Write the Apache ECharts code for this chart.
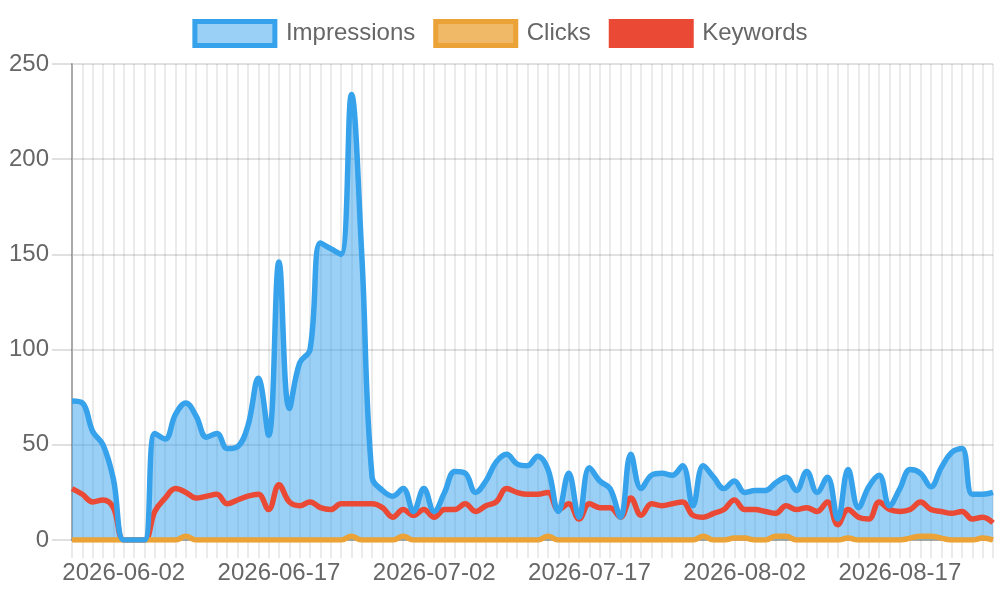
<!DOCTYPE html>
<html>
<head>
<meta charset="utf-8">
<script src="https://cdn.jsdelivr.net/npm/echarts@6/dist/echarts.min.js"></script>
<style>
  html, body { margin: 0; padding: 0; background: #fff; }
  #chart { width: 1000px; height: 600px; }
</style>
</head>
<body>
<div id="chart"></div>
<script>
// dates (one day missing in late July)
const dates = [
  '2026-05-28', '2026-05-29', '2026-05-30', '2026-05-31',
  '2026-06-01', '2026-06-02', '2026-06-03', '2026-06-04', '2026-06-05', '2026-06-06',
  '2026-06-07', '2026-06-08', '2026-06-09', '2026-06-10', '2026-06-11', '2026-06-12',
  '2026-06-13', '2026-06-14', '2026-06-15', '2026-06-16', '2026-06-17', '2026-06-18',
  '2026-06-19', '2026-06-20', '2026-06-21', '2026-06-22', '2026-06-23', '2026-06-24',
  '2026-06-25', '2026-06-26', '2026-06-27', '2026-06-28', '2026-06-29', '2026-06-30',
  '2026-07-01', '2026-07-02', '2026-07-03', '2026-07-04', '2026-07-05', '2026-07-06',
  '2026-07-07', '2026-07-08', '2026-07-09', '2026-07-10', '2026-07-11', '2026-07-12',
  '2026-07-13', '2026-07-14', '2026-07-15', '2026-07-16', '2026-07-17', '2026-07-18',
  '2026-07-19', '2026-07-20', '2026-07-21', '2026-07-22', '2026-07-23', '2026-07-24',
  '2026-07-25', '2026-07-27', '2026-07-28', '2026-07-29', '2026-07-30', '2026-07-31',
  '2026-08-01', '2026-08-02', '2026-08-03', '2026-08-04', '2026-08-05', '2026-08-06',
  '2026-08-07', '2026-08-08', '2026-08-09', '2026-08-10', '2026-08-11', '2026-08-12',
  '2026-08-13', '2026-08-14', '2026-08-15', '2026-08-16', '2026-08-17', '2026-08-18',
  '2026-08-19', '2026-08-20', '2026-08-21', '2026-08-22', '2026-08-23', '2026-08-24',
  '2026-08-25', '2026-08-26'
];

const impressions = [
  73, 72, 57, 50, 32, 0, 0, 0, 56, 53,
  66, 72, 65, 54, 56, 48, 49, 60, 85, 55,
  146, 69, 93, 100, 156, 153, 150, 234, 150, 33,
  26, 23, 27, 15, 27, 15, 25, 36, 35, 25,
  31, 41, 45, 40, 39, 44, 37, 15, 35, 12,
  38, 31, 27, 12, 45, 27, 34, 35, 34, 39,
  18, 39, 33, 27, 31, 25, 26, 26, 30, 33,
  26, 36, 25, 33, 11, 37, 17, 28, 34, 18,
  27, 37, 35, 28, 38, 46, 48, 24, 24, 25
];

const clicks = [
  0, 0, 0, 0, 0, 0, 0, 0, 0, 0,
  0, 2, 0, 0, 0, 0, 0, 0, 0, 0,
  0, 0, 0, 0, 0, 0, 0, 2, 0, 0,
  0, 0, 2, 0, 0, 0, 0, 0, 0, 0,
  0, 0, 0, 0, 0, 0, 2, 0, 0, 0,
  0, 0, 0, 0, 0, 0, 0, 0, 0, 0,
  0, 2, 0, 0, 1, 1, 0, 0, 2, 2,
  0, 0, 0, 0, 0, 1, 0, 0, 0, 0,
  0, 1, 2, 2, 1, 0, 0, 0, 1, 0
];

const keywords = [
  27, 24, 20, 21, 17, 0, 0, 0, 15, 22,
  27, 25, 22, 23, 24, 19, 21, 23, 24, 16,
  29, 20, 18, 20, 17, 16, 19, 19, 19, 19,
  17, 12, 16, 13, 16, 12, 16, 16, 19, 15,
  18, 20, 27, 25, 24, 24, 25, 16, 19, 11,
  19, 17, 17, 12, 22, 13, 19, 18, 19, 20,
  13, 12, 14, 16, 21, 16, 16, 15, 14, 18,
  16, 17, 15, 20, 8, 16, 12, 11, 20, 16,
  15, 16, 20, 16, 15, 14, 15, 11, 12, 9
];

const yTicks = { min: 0, max: 250, step: 50 };

const FONT = 'Liberation Sans';
const BLUE = '#36A2EB';
const BLUE_FILL = 'rgba(54,162,235,0.5)';
const ORANGE = '#EBA236';
const ORANGE_FILL = 'rgba(235,162,54,0.75)';
const RED = '#EA4A35';
const VGRID = 'rgba(0,0,0,0.08)';
const HGRID = 'rgba(0,0,0,0.12)';

const chart = echarts.init(document.getElementById('chart'));

// fills drawn first, lines on top (Impressions line last)
function areaSeries(name, values, fill) {
  return {
    name: name,
    type: 'line',
    data: values,
    smooth: 0.4,
    showSymbol: false,
    z: 1,
    lineStyle: { width: 0, opacity: 0 },
    areaStyle: { color: fill, opacity: 1 },
    silent: true
  };
}

function lineSeries(name, values, color) {
  return {
    name: name,
    type: 'line',
    data: values,
    smooth: 0.4,
    showSymbol: false,
    z: 2,
    lineStyle: { width: 5.5, color: color },
    itemStyle: { color: color }
  };
}

const option = {
  animation: false,
  textStyle: { fontFamily: FONT },
  legend: {
    top: 14,
    left: 'center',
    itemWidth: 80,
    itemHeight: 24,
    itemGap: 18,
    textStyle: { fontSize: 24, color: '#666', fontFamily: FONT, padding: [0, 0, 0, 6] },
    data: [
      { name: 'Impressions', icon: 'rect', itemStyle: { color: BLUE_FILL, borderColor: BLUE, borderWidth: 5 } },
      { name: 'Clicks', icon: 'rect', itemStyle: { color: ORANGE_FILL, borderColor: ORANGE, borderWidth: 5 } },
      { name: 'Keywords', icon: 'rect', itemStyle: { color: RED, borderColor: RED, borderWidth: 5 } }
    ]
  },
  grid: { left: 72, right: 7, top: 64, bottom: 60 },
  xAxis: {
    type: 'category',
    data: dates,
    boundaryGap: false,
    axisLine: { show: true, lineStyle: { color: 'rgba(0,0,0,0.25)' } },
    axisTick: { show: true, interval: 0, length: 18, lineStyle: { color: VGRID, width: 2 } },
    splitLine: { show: true, interval: 0, lineStyle: { color: VGRID, width: 2 } },
    axisLabel: {
      interval: function (idx) { return idx % 15 === 5; },
      fontSize: 24,
      color: '#666',
      fontFamily: FONT,
      margin: 21
    }
  },
  yAxis: {
    type: 'value',
    min: yTicks.min,
    max: yTicks.max,
    interval: yTicks.step,
    axisLine: { show: true, lineStyle: { color: '#aaa', width: 2 } },
    axisTick: { show: true, length: 20, lineStyle: { color: HGRID, width: 2 } },
    splitLine: { show: true, lineStyle: { color: HGRID, width: 2 } },
    axisLabel: { fontSize: 24, color: '#666', fontFamily: FONT, margin: 23 }
  },
  series: [
    areaSeries('Clicks', clicks, ORANGE_FILL),
    areaSeries('Impressions', impressions, BLUE_FILL),
    lineSeries('Keywords', keywords, RED),
    lineSeries('Clicks', clicks, ORANGE),
    lineSeries('Impressions', impressions, BLUE)
  ]
};

chart.setOption(option);
</script>
</body>
</html>
